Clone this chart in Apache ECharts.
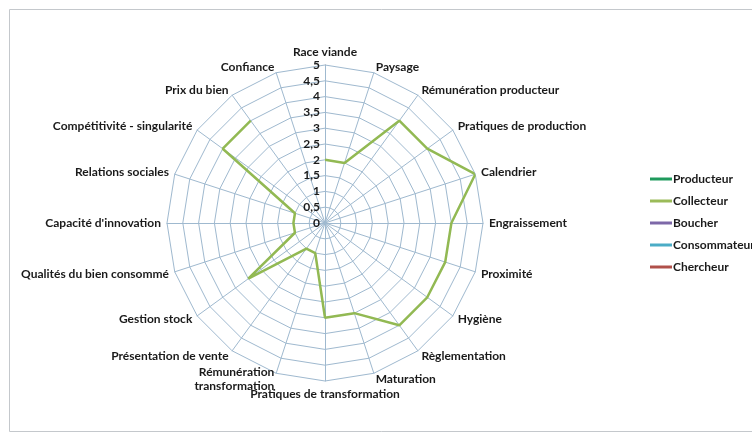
<!DOCTYPE html>
<html>
<head>
<meta charset="utf-8">
<script src="https://cdn.jsdelivr.net/npm/echarts@6/dist/echarts.min.js"></script>
<style>
  html, body { margin: 0; padding: 0; background: #fff; }
  #chart { width: 752px; height: 433px; }
</style>
</head>
<body>
<div id="chart"></div>
<script>
// axes of the radar, clockwise from the top
const indicators = [
  'Race viande', 'Paysage', 'Rémunération producteur', 'Pratiques de production',
  'Calendrier', 'Engraissement', 'Proximité', 'Hygiène', 'Règlementation',
  'Maturation', 'Pratiques de transformation', 'Rémunération\ntransformation',
  'Présentation de vente', 'Gestion stock', 'Qualités du bien consommé',
  "Capacité d'innovation", 'Relations sociales', 'Compétitivité - singularité',
  'Prix du bien', 'Confiance'
];
const radiusLabels = ['0', '0,5', '1', '1,5', '2', '2,5', '3', '3,5', '4', '4,5', '5'];

// only Collecteur is drawn in the picture, Confiance has no value
const producteur = [];
const collecteur = [2, 2, 4, 4, 5, 4, 4, 4, 4, 3, 3, 1, 1, 3, 1, 1, 1, 4, 4, null];
const boucher = [];
const consommateur = [];
const chercheur = [];

const font = 'Lato, "Open Sans", sans-serif';
const chart = echarts.init(document.getElementById('chart'));

const center = [325, 223];
const radius = 158;

// echarts radar runs counter-clockwise, so flip the order after the first one
const radarOrder = [indicators[0]].concat(indicators.slice(1).reverse());

const option = {
  backgroundColor: '#fff',
  animation: false,
  graphic: [{
    type: 'rect',
    shape: { x: 9.5, y: 9.5, width: 800, height: 422 },
    style: { fill: 'none', stroke: '#c4c8cc', lineWidth: 1 },
    silent: true
  }],
  legend: {
    orient: 'vertical',
    left: 645,
    top: 168,
    itemGap: 10,
    icon: 'rect',
    itemWidth: 22,
    itemHeight: 3,
    textStyle: { fontFamily: font, fontSize: 12, color: '#1a1a1a', fontWeight: 'bold', padding: [0, 0, 0, -4] },
    data: ['Producteur', 'Collecteur', 'Boucher', 'Consommateur', 'Chercheur']
  },
  radar: {
    center: center,
    radius: radius,
    startAngle: 90,
    shape: 'polygon',
    splitNumber: 10,
    indicator: radarOrder.map(n => ({ name: n, min: 0, max: 5 })),
    axisName: { color: '#1a1a1a', fontFamily: font, fontSize: 12, fontWeight: 'bold', lineHeight: 14 },
    nameGap: 6,
    axisLine: { lineStyle: { color: '#9fb9cf', width: 1 } },
    splitLine: { lineStyle: { color: '#9fb9cf', width: 1 } },
    splitArea: { show: false }
  },
  polar: { center: center, radius: radius },
  angleAxis: {
    type: 'category',
    data: indicators,
    boundaryGap: false,
    startAngle: 90,
    clockwise: true,
    axisLine: { show: false },
    axisTick: { show: false },
    axisLabel: { show: false },
    splitLine: { show: false }
  },
  radiusAxis: {
    type: 'value',
    min: 0,
    max: 5,
    interval: 0.5,
    axisLine: { show: true, lineStyle: { color: '#d4aaa8' } },
    axisTick: { show: false },
    splitLine: { show: false },
    axisLabel: {
      show: true,
      fontFamily: font,
      fontSize: 12,
      fontWeight: 'bold',
      color: '#1a1a1a',
      margin: 5,
      formatter: (v) => radiusLabels[Math.round(v * 2)]
    }
  },
  series: [
    { name: 'Producteur', type: 'line', coordinateSystem: 'polar', data: producteur, color: '#1f9a5c', symbol: 'none' },
    {
      name: 'Collecteur', type: 'line', coordinateSystem: 'polar', data: collecteur,
      color: '#9bbb59', symbol: 'none', connectNulls: false,
      lineStyle: { width: 2.5, color: '#92b953' }
    },
    { name: 'Boucher', type: 'line', coordinateSystem: 'polar', data: boucher, color: '#7d68a8', symbol: 'none' },
    { name: 'Consommateur', type: 'line', coordinateSystem: 'polar', data: consommateur, color: '#4bacc6', symbol: 'none' },
    { name: 'Chercheur', type: 'line', coordinateSystem: 'polar', data: chercheur, color: '#b0504a', symbol: 'none' }
  ]
};

chart.setOption(option);
</script>
</body>
</html>
